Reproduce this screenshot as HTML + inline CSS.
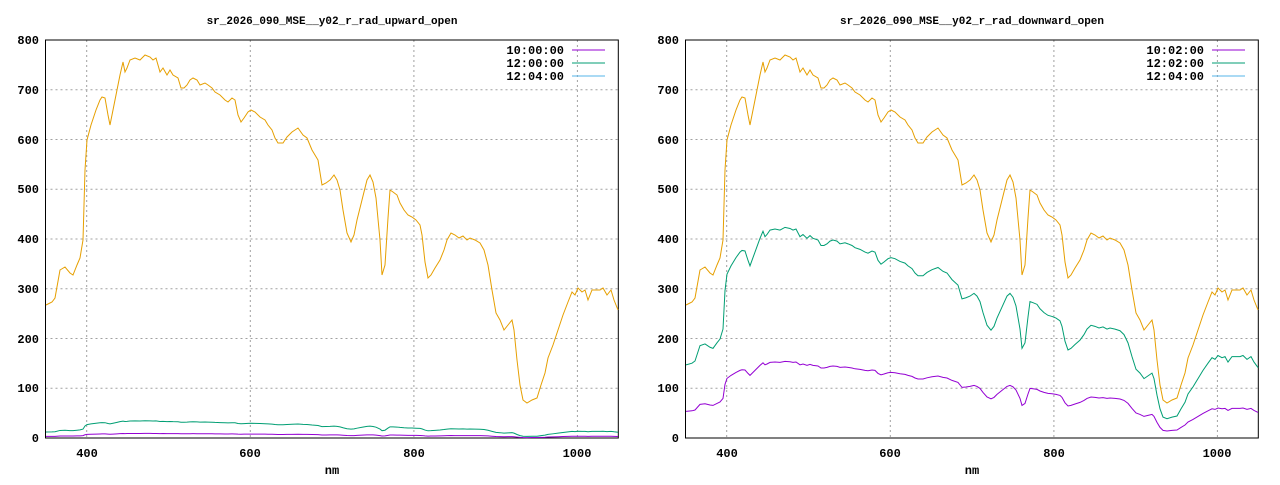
<!DOCTYPE html>
<html><head><meta charset="utf-8"><style>
html,body{margin:0;padding:0;background:#fff;}
svg text{font-family:"Liberation Mono","DejaVu Sans Mono",monospace;font-size:12px;font-weight:bold;fill:#000;}
</style></head><body>
<svg width="1280" height="480" xmlns="http://www.w3.org/2000/svg">
<defs>
<polyline id="o" fill="none" stroke-width="1" vector-effect="non-scaling-stroke" points="46,305 52,302 55,298 60,270 65,267 70,273 73,275 77,265 80,258 83,240 85,170 87,140 91,125 96,110 100,100 102,97 105,98 108,115 110,125 113,110 117,90 120,75 123,62 125,72 127,68 130,60 135,58 140,60 145,55 150,57 153,60 156,58 160,72 163,68 167,75 170,70 173,75 178,78 181,88 184,88 187,85 190,80 193,78 197,80 200,85 205,83 208,85 212,88 215,92 220,95 225,100 228,102 232,98 235,100 238,115 241,122 244,118 248,112 251,110 255,112 260,117 265,120 268,125 272,130 275,138 278,143 283,143 287,137 292,132 298,128 303,135 307,138 312,150 318,160 322,185 326,183 330,180 334,175 337,180 340,190 343,210 347,233 351,242 354,235 357,220 362,200 367,180 370,175 373,182 376,198 380,240 382,275 385,265 388,218 390,190 393,192 397,195 400,203 404,210 408,215 412,217 416,220 420,225 422,235 425,262 428,278 431,275 435,268 440,260 444,250 447,240 451,233 455,235 459,238 463,236 467,240 470,238 475,240 480,243 484,250 488,265 492,290 496,313 500,320 504,330 508,325 512,320 514,330 517,360 520,385 523,400 527,403 532,400 537,398 541,385 545,373 548,358 553,345 558,330 563,315 568,302 572,292 575,295 578,288 582,292 585,290 588,300 592,290 596,290 600,290 603,288 607,295 611,290 614,300 618,310"/>
<g id="frame">
<g stroke="#a0a0a0" stroke-dasharray="2,3" stroke-width="1">
<line x1="45.5" x2="618.3" y1="388.3" y2="388.3"/><line x1="45.5" x2="618.3" y1="338.5" y2="338.5"/>
<line x1="45.5" x2="618.3" y1="288.8" y2="288.8"/><line x1="45.5" x2="618.3" y1="239" y2="239"/>
<line x1="45.5" x2="618.3" y1="189.3" y2="189.3"/><line x1="45.5" x2="618.3" y1="139.5" y2="139.5"/>
<line x1="45.5" x2="618.3" y1="89.8" y2="89.8"/>
<line x1="86.7" x2="86.7" y1="40" y2="438"/><line x1="250.3" x2="250.3" y1="40" y2="438"/>
<line x1="413.9" x2="413.9" y1="40" y2="438"/><line x1="577.4" x2="577.4" y1="40" y2="438"/>
</g>
<rect x="45.5" y="40" width="572.8" height="398" fill="none" stroke="#000"/>
<g text-anchor="end">
<text x="39" y="442">0</text><text x="39" y="392">100</text><text x="39" y="343">200</text><text x="39" y="293">300</text>
<text x="39" y="243">400</text><text x="39" y="193">500</text><text x="39" y="144">600</text><text x="39" y="94">700</text><text x="39" y="44">800</text>
</g>
<g text-anchor="middle">
<text x="87" y="457">400</text><text x="250" y="457">600</text><text x="414" y="457">800</text><text x="577" y="457">1000</text>
<text x="332" y="474">nm</text>
</g>
</g>
</defs>
<!-- left -->
<use href="#frame"/>
<text x="332" y="24" text-anchor="middle" style="font-size:11px">sr_2026_090_MSE__y02_r_rad_upward_open</text>
<use href="#o" stroke="#e69f00"/>
<use href="#o" stroke="#009e73" transform="translate(0,438) scale(1,0.045) translate(0,-438)"/>
<use href="#o" stroke="#9400d3" transform="translate(0,438) scale(1,0.012) translate(0,-438)"/>
<g text-anchor="end"><text x="564" y="54">10:00:00</text><text x="564" y="67">12:00:00</text><text x="564" y="80">12:04:00</text></g>
<line x1="572" x2="605" y1="50" y2="50" stroke="#9400d3"/>
<line x1="572" x2="605" y1="63" y2="63" stroke="#009e73"/>
<line x1="572" x2="605" y1="76" y2="76" stroke="#56b4e9"/>
<!-- right -->
<g transform="translate(640,0)">
<use href="#frame"/>
<use href="#o" stroke="#e69f00"/>
<use href="#o" stroke="#009e73" transform="translate(0,438) scale(1,0.55) translate(0,-438)"/>
<use href="#o" stroke="#9400d3" transform="translate(0,438) scale(1,0.2) translate(0,-438)"/>
<g text-anchor="end"><text x="564" y="54">10:02:00</text><text x="564" y="67">12:02:00</text><text x="564" y="80">12:04:00</text></g>
<line x1="572" x2="605" y1="50" y2="50" stroke="#9400d3"/>
<line x1="572" x2="605" y1="63" y2="63" stroke="#009e73"/>
<line x1="572" x2="605" y1="76" y2="76" stroke="#56b4e9"/>
</g>
<text x="972" y="24" text-anchor="middle" style="font-size:11px">sr_2026_090_MSE__y02_r_rad_downward_open</text>
</svg>
</body></html>
